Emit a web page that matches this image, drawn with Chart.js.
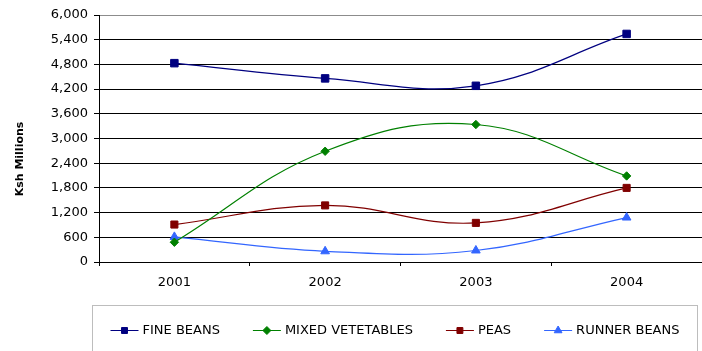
<!DOCTYPE html>
<html>
<head>
<meta charset="utf-8">
<script src="https://cdn.jsdelivr.net/npm/chart.js@4/dist/chart.umd.min.js"></script>
<style>
  html, body { margin: 0; padding: 0; background: #fff; }
  #wrap { width: 702px; height: 351px; position: relative; }
</style>
</head>
<body>
<div id="wrap"><canvas id="c" width="702" height="351"></canvas></div>
<script>
// Export values by crop, Ksh millions
const years = ['2001', '2002', '2003', '2004'];
const fineBeans = [4830, 4460, 4280, 5540];
const mixedVegetables = [480, 2690, 3340, 2090];
const peas = [910, 1375, 950, 1800];
const runnerBeans = [610, 260, 280, 1080];
const seriesNames = ['FINE BEANS', 'MIXED VETETABLES', 'PEAS', 'RUNNER BEANS'];
const yTitle = 'Ksh Millions';

const FONT = '"DejaVu Sans", Verdana, sans-serif';

// Legend drawn as a boxed row of line+marker samples under the plot
const boxLegend = {
  id: 'boxLegend',
  afterDraw(chart) {
    const ctx = chart.ctx;
    ctx.save();
    // frame
    ctx.strokeStyle = '#bdbdbd';
    ctx.lineWidth = 1;
    ctx.strokeRect(92.5, 305.5, 605, 60);
    ctx.font = '13px ' + FONT;
    ctx.textBaseline = 'middle';
    const sample = 28, gapText = 4, gapItem = 33;
    const ds = chart.data.datasets;
    const widths = ds.map(d => ctx.measureText(d.label).width);
    let total = 0;
    widths.forEach((w, i) => { total += sample + gapText + w + (i ? gapItem : 0); });
    let x = 92.5 + (605 - total) / 2;
    const y = 330;
    ds.forEach((d, i) => {
      ctx.strokeStyle = d.borderColor;
      ctx.lineWidth = 1;
      ctx.beginPath();
      ctx.moveTo(x, y + 0.5);
      ctx.lineTo(x + sample, y + 0.5);
      ctx.stroke();
      ctx.fillStyle = d.pointBackgroundColor;
      ctx.strokeStyle = d.pointBorderColor;
      Chart.helpers.drawPoint(ctx, {
        pointStyle: d.pointStyle,
        radius: d.legendRadius,
        borderWidth: 1,
        rotation: 0
      }, x + sample / 2, y + 0.5);
      ctx.fillStyle = '#000';
      ctx.textAlign = 'left';
      ctx.fillText(d.label, x + sample + gapText, y + 1);
      x += sample + gapText + widths[i] + gapItem;
    });
    // vertical axis title
    ctx.translate(20, 159);
    ctx.rotate(-Math.PI / 2);
    ctx.font = 'bold 11px ' + FONT;
    ctx.textAlign = 'center';
    ctx.fillStyle = '#000';
    ctx.fillText(yTitle, 0, 0);
    ctx.restore();
  }
};

function series(label, values, color, style, radius, legendRadius) {
  return {
    label: label,
    data: values,
    borderColor: color,
    backgroundColor: color,
    pointBackgroundColor: color,
    pointBorderColor: color,
    pointStyle: style,
    pointRadius: radius,
    pointBorderWidth: 1,
    legendRadius: legendRadius,
    borderWidth: 1.2,
    tension: 0.4,
    fill: false,
    clip: false
  };
}

new Chart(document.getElementById('c'), {
  type: 'line',
  data: {
    labels: years,
    datasets: [
      series(seriesNames[0], fineBeans, '#000080', 'rect', 5.3, 4.2),
      series(seriesNames[1], mixedVegetables, '#008000', 'rectRot', 4.2, 4),
      series(seriesNames[2], peas, '#800000', 'rect', 5.0, 4.2),
      series(seriesNames[3], runnerBeans, '#3366FF', 'triangle', 5.0, 4.5)
    ]
  },
  options: {
    responsive: false,
    animation: false,
    devicePixelRatio: 1,
    layout: { autoPadding: false, padding: { left: 0, right: 0, top: 15, bottom: 59 } },
    plugins: { legend: { display: false }, tooltip: { enabled: false } },
    scales: {
      x: {
        offset: true,
        afterFit(s) { s.height = 30; s.paddingLeft = 0; s.paddingRight = 0; },
        grid: {
          offset: true,
          drawOnChartArea: false,
          tickLength: 4,
          color: '#000'
        },
        border: { color: '#000', width: 1 },
        ticks: { color: '#000', font: { family: FONT, size: 13 }, padding: 9, maxRotation: 0 }
      },
      y: {
        min: 0,
        max: 6000,
        afterFit(s) { s.width = 99; },
        grid: {
          color: c => (c.tick && c.tick.value === 6000) ? '#8c8c8c' : '#000',
          tickColor: '#000',
          tickLength: 5,
          lineWidth: 1
        },
        border: { color: '#000', width: 1 },
        ticks: {
          stepSize: 600,
          color: '#000',
          padding: 6,
          font: { family: FONT, size: 13 },
          callback: v => v.toLocaleString('en-US')
        }
      }
    }
  },
  plugins: [boxLegend]
});
</script>
</body>
</html>
